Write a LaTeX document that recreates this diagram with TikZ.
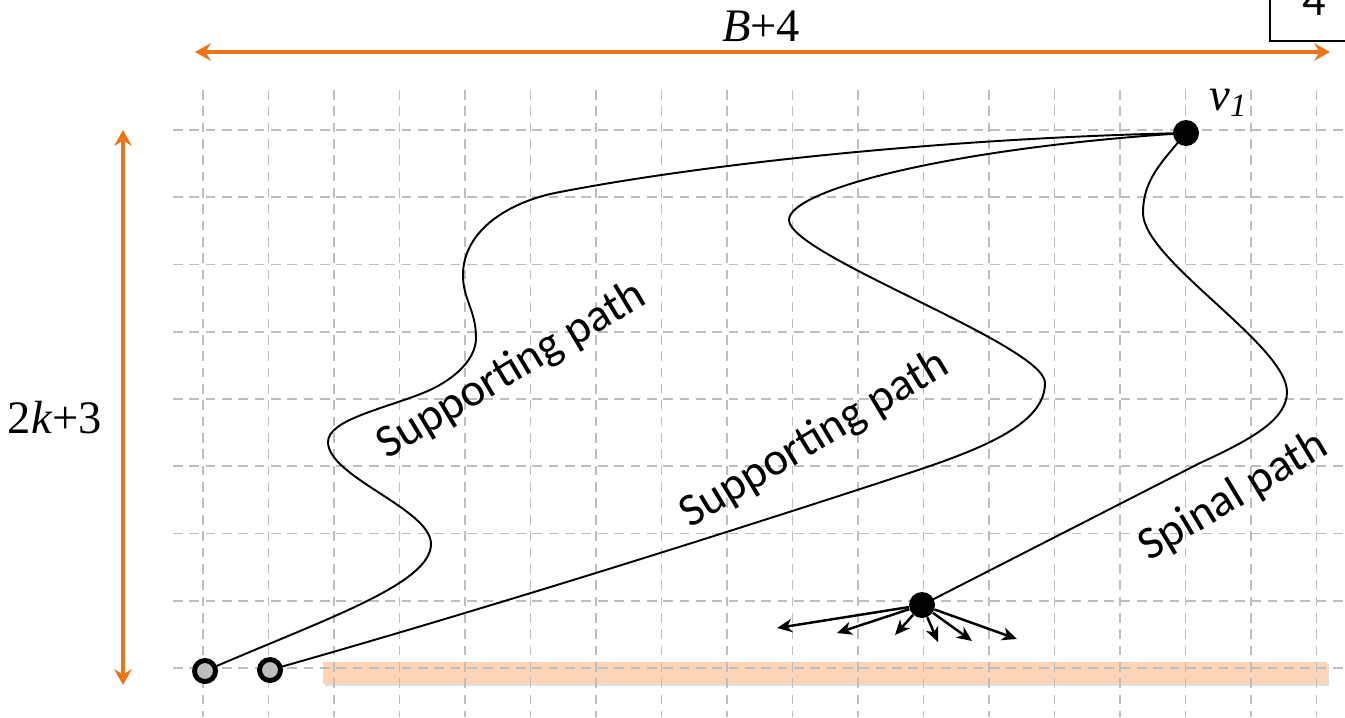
\documentclass[tikz,border=0pt]{standalone}
\usepackage{fontspec}
\setmainfont{Liberation Serif}
\newfontfamily\labelfont{Carlito}
\usetikzlibrary{arrows.meta}

\definecolor{dimorange}{RGB}{236,116,24}
\definecolor{barorange}{RGB}{251,213,181}
\definecolor{gridgray}{RGB}{190,190,190}

\begin{document}
\begin{tikzpicture}[x=0.02cm, y=-0.02cm,
    >={Stealth[length=8.5pt,width=7.5pt,inset=2.5pt]},
    bigtext/.style={font=\fontsize{26.5}{30}\selectfont, inner sep=0pt},
    pathlabel/.style={font=\labelfont\fontsize{26.5}{30}\selectfont, anchor=base, rotate=31, inner sep=0pt},
    gridline/.style={gridgray, line width=1.1pt, dash pattern=on 5.5pt off 3.8pt},
    dimarrow/.style={dimorange, line width=1.9pt, {Stealth[length=9pt,width=10pt,inset=3pt]}-{Stealth[length=9pt,width=10pt,inset=3pt]}},
    walk/.style={line width=1.1pt},
    endpt/.style={circle, draw, line width=2.8pt, fill=gridgray, minimum size=0.42cm, inner sep=0pt},
    blackpt/.style={circle, fill=black, minimum size=0.52cm, inner sep=0pt},
    fanarrow/.style={->, line width=1.4pt}]
  \useasboundingbox (0,0) rectangle (1345,717);
  \clip (0,0) rectangle (1345,717);

  \fill[black, opacity=0.12] (325,664) rectangle (1329,686);
  \fill[barorange] (323,662) rectangle (1327,684);

  \foreach \j in {0,...,8}
    \draw[gridline] (173,{130+67.25*\j}) -- (1345,{130+67.25*\j});
  \foreach \i in {0,...,17}
    \draw[gridline] ({203+65.5*\i},90) -- ({203+65.5*\i},717);

  \coordinate (s1) at (205,671);
  \coordinate (s2) at (270,670);
  \coordinate (v1) at (1186,133);
  \coordinate (u) at (922,605);

  \draw[walk] (s1) .. controls (325,619) and (431,584) .. (431,544)
    .. controls (431,509) and (328,477) .. (328,442)
    .. controls (328,420) and (383,409) .. (423,393)
    .. controls (453,381) and (476,360) .. (476,338)
    .. controls (476,310) and (463,300) .. (463,275)
    .. controls (463,230) and (510,201) .. (560,192)
    .. controls (710,163) and (950,138) .. (v1);
  \draw[walk] (s2) .. controls (500,605) and (760,522) .. (900,476)
    .. controls (980,450) and (1045,425) .. (1045,383)
    .. controls (1045,345) and (789,255) .. (789,220)
    .. controls (789,190) and (950,148) .. (v1);
  \draw[walk] (v1) .. controls (1161,163) and (1143,180) .. (1143,213)
    .. controls (1143,260) and (1287,345) .. (1287,392)
    .. controls (1287,420) and (1250,440) .. (1200,463)
    -- (u);

  \node[endpt] (p1) at (s1) {};
  \node[endpt] (p2) at (s2) {};
  \node[blackpt] (top) at (v1) {};
  \node[blackpt] (spine) at (u) {};

  \foreach \tx/\ty in {777/628, 837/633, 895/635, 938/642, 972/641, 1017/639}
    \draw[fanarrow] (spine) -- (\tx,\ty);

  \coordinate (wl) at (195,52);
  \coordinate (wr) at (1330,52);
  \coordinate (hb) at (123,685);
  \coordinate (ht) at (123,130);
  \draw[dimarrow] (wl) -- (wr);
  \draw[dimarrow] (hb) -- (ht);

  \node[bigtext, anchor=base] (wlabel) at (761,41) {\textit{B}+4};
  \node[bigtext, anchor=base] (hlabel) at (55,433) {2\textit{k}+3};
  \node[bigtext, anchor=base west] (vlabel) at (1209,110) {\textit{v}\textsubscript{\textit{1}}};

  \node[pathlabel] (sup1) at (518,381) {Supporting path};
  \node[pathlabel] (sup2) at (821,450) {Supporting path};
  \node[pathlabel] (spinal) at (1240,507) {Spinal path};

  \draw[line width=1.2pt] (1270,-20) rectangle (1380,41);
  \node[font=\labelfont\fontsize{26.5}{30}\selectfont, anchor=base, inner sep=0pt] (pagenum) at (1314,15) {4};
\end{tikzpicture}
\end{document}
